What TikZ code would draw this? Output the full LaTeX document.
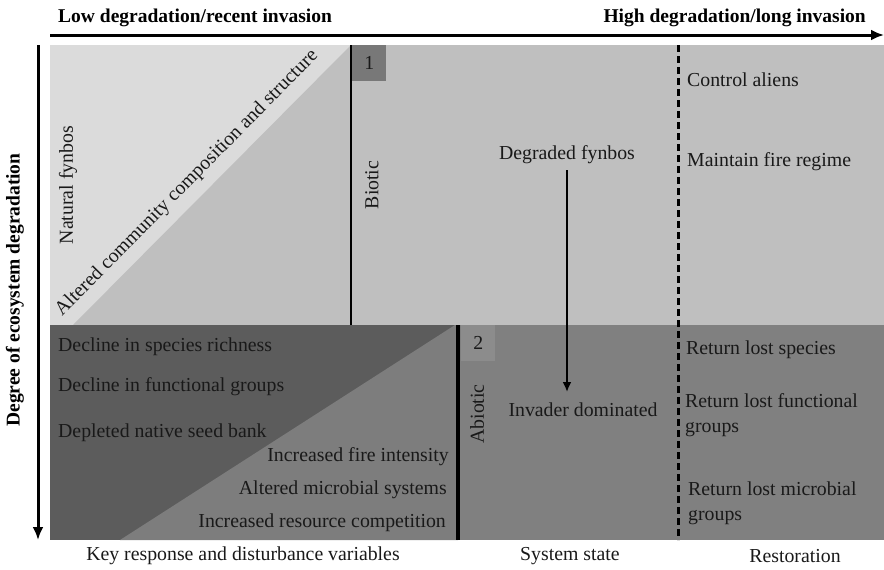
\documentclass[tikz,border=0pt]{standalone}
\usepackage{fontspec}
\setmainfont{Liberation Serif}
\usepackage{xcolor}
\usetikzlibrary{arrows.meta}
\usetikzlibrary{positioning}

\definecolor{palegrey}{gray}{0.86}
\definecolor{lightgrey}{gray}{0.75}
\definecolor{lowgrey}{gray}{0.49}
\definecolor{darkgrey}{gray}{0.36}
\definecolor{midgrey}{gray}{0.5}
\definecolor{tabgrey}{gray}{0.47}
\definecolor{tabpale}{gray}{0.55}

\begin{document}
\begin{tikzpicture}[x=1pt, y=-1pt, every node/.style={inner sep=0pt, text=black!90, font=\fontsize{19.8}{25}\selectfont}, axislabel/.style={font=\fontsize{19.5}{25}\selectfont\bfseries, text=black}, axisarrow/.style={line width=3pt, -{Latex[length=13pt, width=11pt]}}, tab/.style={minimum width=34pt, minimum height=36pt, anchor=north west}]
  \useasboundingbox (0,0) rectangle (884,570);
  \fill[palegrey] (50,45) rectangle (351,325);
  \fill[lightgrey] (73,325) -- (351,45) -- (351,325) -- cycle;
  \fill[lightgrey] (351,45) rectangle (884,325);
  \fill[darkgrey] (50,325) rectangle (458,540);
  \fill[lowgrey] (120,540) -- (455,325) -- (458,325) -- (458,540) -- cycle;
  \fill[midgrey] (458,325) rectangle (884,540);
  \node[tab, fill=tabgrey] (tab1) at (352,45) {1};
  \node[tab, fill=tabpale] (tab2) at (461,325) {2};
  \coordinate (xstart) at (50,35);
  \coordinate (xend) at (884,35);
  \coordinate (ystart) at (38,45);
  \coordinate (yend) at (38,540);
  \draw[axisarrow] (xstart) -- (xend);
  \draw[axisarrow] (ystart) -- (yend);
  \coordinate (biotictop) at (351,45);
  \coordinate (bioticbot) at (351,325);
  \coordinate (abiotictop) at (458,325);
  \coordinate (abioticbot) at (458,540);
  \coordinate (resttop) at (678,45);
  \coordinate (restbot) at (678,540);
  \draw[line width=1.5pt] (biotictop) -- (bioticbot);
  \draw[line width=4pt] (abiotictop) -- (abioticbot);
  \draw[line width=3pt, dash pattern=on 7pt off 4pt] (resttop) -- (restbot);
  \node[axislabel, anchor=base west] (low) at (58,22) {Low degradation/recent invasion};
  \node[axislabel, anchor=base east] (high) at (866,22) {High degradation/long invasion};
  \node[axislabel, rotate=90] (degree) at (15,290) {Degree of ecosystem degradation};
  \node[rotate=90] (natural) at (68,185) {Natural fynbos};
  \node[rotate=45.4] (altered) at (187,183) {Altered community composition and structure};
  \node[rotate=90] (biotic) at (372,185) {Biotic};
  \node (degraded) at (567,155) {Degraded fynbos};
  \node[anchor=west] (aliens) at (687,80) {Control aliens};
  \node[anchor=west] (fire) at (687,162) {Maintain fire regime};
  \node[rotate=90] (abiotic) at (477,414) {Abiotic};
  \node (invader) at (583,410) {Invader dominated};
  \draw[line width=2.5pt, -{Latex[length=10pt, width=9pt]}] (degraded.south -| 567,0) ++(0,6) -- (567,392);
  \node[anchor=west] (richness) at (58,347) {Decline in species richness};
  \node[anchor=west] (functional) at (58,387) {Decline in functional groups};
  \node[anchor=west] (seedbank) at (58,433) {Depleted native seed bank};
  \node[anchor=east] (intensity) at (449,457) {Increased fire intensity};
  \node[anchor=east] (microbial) at (447,490) {Altered microbial systems};
  \node[anchor=east] (competition) at (446,523) {Increased resource competition};
  \node[anchor=west] (species) at (686,350) {Return lost species};
  \node[anchor=west, align=left] (groups) at (685,415) {Return lost functional\\groups};
  \node[anchor=west, align=left] (microbes) at (688,503) {Return lost microbial\\groups};
  \node (keyvars) at (243,556) {Key response and disturbance variables};
  \node (state) at (570,556) {System state};
  \node (restoration) at (795,556) {Restoration};
\end{tikzpicture}
\end{document}
